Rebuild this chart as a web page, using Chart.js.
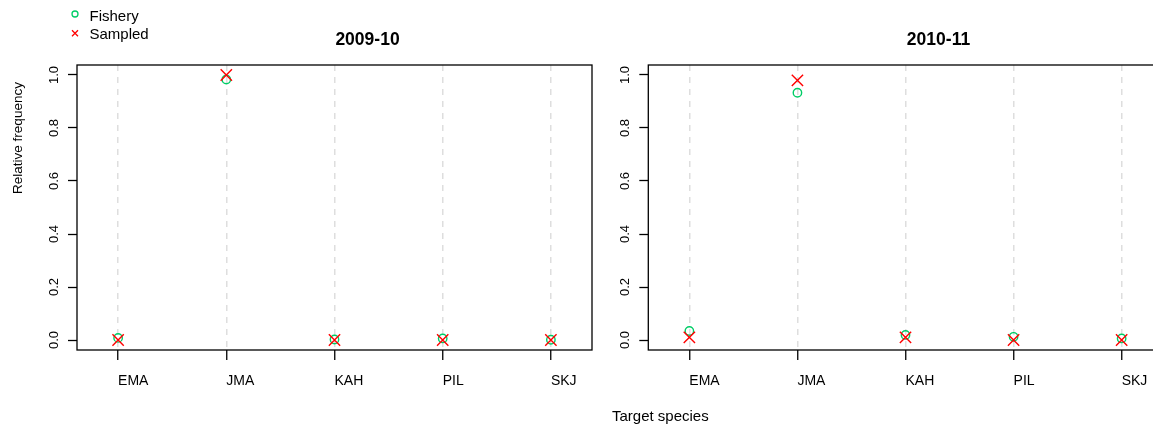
<!DOCTYPE html>
<html><head><meta charset="utf-8">
<script src="https://cdn.jsdelivr.net/npm/chart.js@4.4.1/dist/chart.umd.min.js"></script>
<style>
html,body{margin:0;padding:0;background:#fff;overflow:hidden;}
#wrap{position:relative;width:1153px;height:425px;overflow:hidden;background:#fff;}
#c1{position:absolute;left:0;top:0;}
#c2{position:absolute;left:600px;top:0;}
</style></head><body>
<div id="wrap"><canvas id="c1" width="620" height="425"></canvas><canvas id="c2" width="600" height="425"></canvas></div>
<script>
const species = ['EMA', 'JMA', 'KAH', 'PIL', 'SKJ'];
const seasons = ['2009-10', '2010-11'];
const fishery0910 = [0.008, 0.983, 0.002, 0.006, 0.001];
const sampled0910 = [0.000, 1.000, 0.000, 0.000, 0.000];
const fishery1011 = [0.034, 0.933, 0.019, 0.012, 0.006];
const sampled1011 = [0.010, 0.980, 0.010, 0.000, 0.000];
const yTicks = [0, 0.2, 0.4, 0.6, 0.8, 1.0];
const yTickLabels = ['0.0', '0.2', '0.4', '0.6', '0.8', '1.0'];
const legendLabels = ['Fishery', 'Sampled'];
const yTitle = 'Relative frequency';
const xTitle = 'Target species';

const FONT = '"Liberation Sans", Arial, Helvetica, sans-serif';
const GREEN = '#00CD66';
const RED = '#FF0000';

function pts(vals) { return vals.map((v, i) => ({x: i + 1, y: v})); }

const boxPlugin = {
  id: 'box',
  afterDatasetsDraw(chart) {
    const {ctx, chartArea: a} = chart;
    ctx.save();
    ctx.strokeStyle = '#000';
    ctx.lineWidth = 1.3;
    ctx.strokeRect(a.left, a.top, a.right - a.left, a.bottom - a.top);
    ctx.restore();
  }
};

function textPlugin(drawFn) {
  return { id: 'txt', afterDraw(chart) { const ctx = chart.ctx; ctx.save(); drawFn(ctx, chart); ctx.restore(); } };
}

function makeChart(id, fishery, sampled, opts) {
  return new Chart(document.getElementById(id), {
    type: 'scatter',
    data: {
      datasets: [
        { label: legendLabels[1], data: pts(sampled), order: 0, pointStyle: 'crossRot', pointRadius: 8,
          borderColor: RED, backgroundColor: RED, pointBorderWidth: 1.4, borderWidth: 1.4 },
        { label: legendLabels[0], data: pts(fishery), order: 1, pointStyle: 'circle', pointRadius: 4.2,
          borderColor: GREEN, backgroundColor: 'rgba(0,0,0,0)', pointBorderWidth: 1.4, borderWidth: 1.4 }
      ]
    },
    options: {
      responsive: false, animation: false, devicePixelRatio: 1,
      layout: { padding: { left: 0, top: 65, right: opts.padRight, bottom: 0 } },
      plugins: { legend: { display: false }, tooltip: { enabled: false }, title: { display: false } },
      scales: {
        x: {
          type: 'linear', min: 0.62, max: 5.38,
          afterBuildTicks: s => { s.ticks = species.map((_, i) => ({ value: i + 1 })); },
          afterFit: s => { s.height = 75; },
          grid: { display: true, drawOnChartArea: true, color: '#dedede', lineWidth: 1.5,
                  drawTicks: true, tickLength: 10, tickColor: '#000', tickWidth: 1.3, tickBorderDash: [] },
          border: { display: false, dash: [6, 6] },
          ticks: { autoSkip: false, maxRotation: 0, minRotation: 0, align: 'start', padding: 13, color: '#000',
                   font: { family: FONT, size: 14 }, callback: v => species[Math.round(v) - 1] }
        },
        y: {
          type: 'linear', min: -0.0377, max: 1.0377,
          afterBuildTicks: s => { s.ticks = yTicks.map(v => ({ value: v })); },
          afterFit: s => { s.width = opts.yWidth; },
          grid: { display: true, drawOnChartArea: false, drawTicks: true, tickLength: 9, tickColor: '#000', tickWidth: 1.3 },
          border: { display: false },
          ticks: { minRotation: 90, maxRotation: 90, crossAlign: 'center', padding: 5, color: '#000',
                   font: { family: FONT, size: 13 },
                   callback: v => { const k = yTicks.findIndex(t => Math.abs(t - v) < 1e-9); return k >= 0 ? yTickLabels[k] : ''; } }
        }
      }
    },
    plugins: [boxPlugin, textPlugin(opts.draw)]
  });
}

makeChart('c1', fishery0910, sampled0910, {
  padRight: 28, yWidth: 77,
  draw: (ctx) => {
    ctx.fillStyle = '#000';
    ctx.font = 'bold 17.5px ' + FONT;
    ctx.textAlign = 'center'; ctx.textBaseline = 'middle';
    ctx.fillText(seasons[0], 367.5, 40);
    ctx.save();
    ctx.translate(18, 138);
    ctx.rotate(-Math.PI / 2);
    ctx.font = '13.5px ' + FONT;
    ctx.fillText(yTitle, 0, 0);
    ctx.restore();
    ctx.lineWidth = 1.3;
    ctx.strokeStyle = GREEN;
    ctx.beginPath(); ctx.arc(75, 14, 3, 0, Math.PI * 2); ctx.stroke();
    ctx.strokeStyle = RED;
    ctx.beginPath();
    ctx.moveTo(72, 30.3); ctx.lineTo(78, 36.3);
    ctx.moveTo(78, 30.3); ctx.lineTo(72, 36.3);
    ctx.stroke();
    ctx.font = '15px ' + FONT;
    ctx.textAlign = 'left'; ctx.textBaseline = 'middle';
    ctx.fillStyle = '#000';
    ctx.fillText(legendLabels[0], 89.5, 16.5);
    ctx.fillText(legendLabels[1], 89.5, 35);
  }
});

makeChart('c2', fishery1011, sampled1011, {
  padRight: 37.3, yWidth: 48.3,
  draw: (ctx) => {
    ctx.fillStyle = '#000';
    ctx.font = 'bold 17.5px ' + FONT;
    ctx.textAlign = 'center'; ctx.textBaseline = 'middle';
    ctx.fillText(seasons[1], 938.5 - 600, 40);
    ctx.font = '15px ' + FONT;
    ctx.textAlign = 'left';
    ctx.fillText(xTitle, 612 - 600, 417);
  }
});
</script>
</body></html>
